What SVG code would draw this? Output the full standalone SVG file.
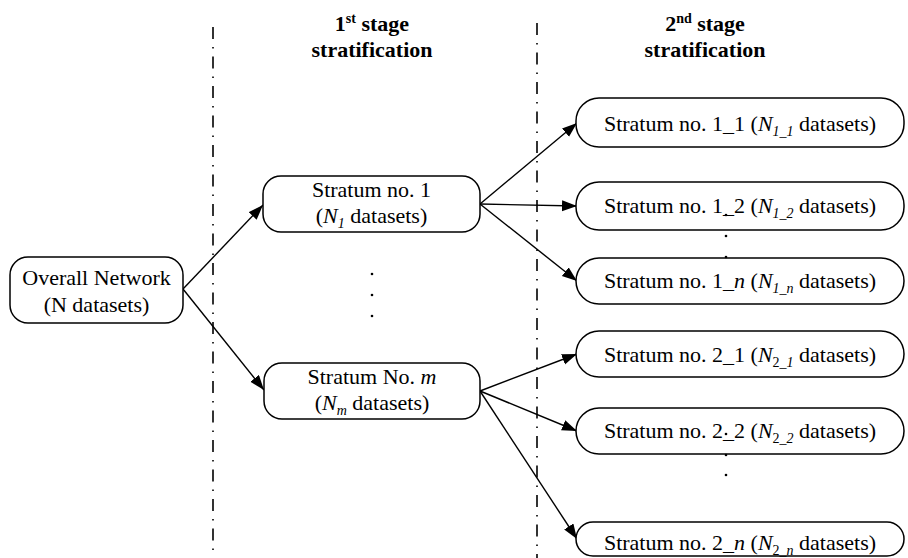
<svg xmlns="http://www.w3.org/2000/svg" width="908" height="558" viewBox="0 0 908 558">
  <style>
    .box { fill: #fff; stroke: #000; stroke-width: 1.5; }
    .lbl { font-family: "Liberation Serif", "Times New Roman", serif; font-size: 22px; fill: #000; text-anchor: middle; }
    .ttl { font-family: "Liberation Serif", "Times New Roman", serif; font-size: 22px; font-weight: bold; fill: #000; text-anchor: middle; }
    .it { font-style: italic; }
    .sub { font-size: 14px; }
    .sep { stroke: #000; stroke-width: 1.6; stroke-dasharray: 12 8 1.5 8; fill: none; }
    .edge { stroke: #000; stroke-width: 1.4; fill: none; marker-end: url(#arrow); }
    .dot { fill: #000; }
  </style>
  <defs>
    <marker id="arrow" markerUnits="userSpaceOnUse" markerWidth="16" markerHeight="12" refX="15" refY="5.5" orient="auto">
      <path d="M0,0 L15,5.5 L0,11 z" fill="#000"/>
    </marker>
  </defs>

  <!-- stage separators -->
  <g id="separators">
    <line class="sep" x1="213" y1="27" x2="213" y2="558"/>
    <line class="sep" x1="537" y1="23" x2="537" y2="558"/>
  </g>

  <!-- column titles -->
  <g id="title-stage1">
    <text class="ttl" x="372" y="31">1<tspan font-size="14" dy="-8">st</tspan><tspan dy="8"> stage</tspan></text>
    <text class="ttl" x="372" y="57">stratification</text>
  </g>
  <g id="title-stage2">
    <text class="ttl" x="705" y="31">2<tspan font-size="14" dy="-8">nd</tspan><tspan dy="8"> stage</tspan></text>
    <text class="ttl" x="705" y="57">stratification</text>
  </g>

  <!-- connectors -->
  <g id="connectors">
    <line class="edge" x1="183" y1="289" x2="263" y2="205"/>
    <line class="edge" x1="183" y1="289" x2="264" y2="390"/>
    <line class="edge" x1="480" y1="204" x2="577" y2="123"/>
    <line class="edge" x1="480" y1="204" x2="577" y2="206"/>
    <line class="edge" x1="480" y1="204" x2="577" y2="281"/>
    <line class="edge" x1="480" y1="391" x2="577" y2="354"/>
    <line class="edge" x1="480" y1="391" x2="577" y2="431"/>
    <line class="edge" x1="480" y1="391" x2="577" y2="539"/>
  </g>

  <!-- root node -->
  <g id="overall">
    <rect class="box" x="10" y="257" width="173" height="66" rx="18"/>
    <text class="lbl" x="96.5" y="285">Overall Network</text>
    <text class="lbl" x="96.5" y="312">(N datasets)</text>
  </g>

  <!-- first stage strata -->
  <g id="stratum-1">
    <rect class="box" x="263" y="176" width="217" height="56" rx="18"/>
    <text class="lbl" x="371.5" y="197">Stratum no. 1</text>
    <text class="lbl" x="371.5" y="223">(<tspan class="it">N</tspan><tspan class="sub it" dy="5">1</tspan><tspan dy="-5"> datasets)</tspan></text>
  </g>
  <g id="stratum-m">
    <rect class="box" x="264" y="363" width="216" height="56" rx="18"/>
    <text class="lbl" x="372" y="384">Stratum No. <tspan class="it">m</tspan></text>
    <text class="lbl" x="372" y="410">(<tspan class="it">N</tspan><tspan class="sub it" dy="5">m</tspan><tspan dy="-5"> datasets)</tspan></text>
  </g>
  <g id="stage1-ellipsis">
    <circle class="dot" cx="372" cy="274" r="1.3"/>
    <circle class="dot" cx="372" cy="295" r="1.3"/>
    <circle class="dot" cx="372" cy="316" r="1.3"/>
  </g>

  <!-- second stage strata -->
  <g id="stratum-1-1">
    <rect class="box" x="576" y="98" width="328" height="49" rx="23"/>
    <text class="lbl" x="740" y="131">Stratum no. 1_1 (<tspan class="it">N</tspan><tspan class="sub it" dy="5">1_1</tspan><tspan dy="-5"> datasets)</tspan></text>
  </g>
  <g id="stratum-1-2">
    <rect class="box" x="576" y="182" width="328" height="48" rx="23"/>
    <text class="lbl" x="740" y="213">Stratum no. 1_2 (<tspan class="it">N</tspan><tspan class="sub it" dy="5">1_2</tspan><tspan dy="-5"> datasets)</tspan></text>
  </g>
  <g id="stratum-1-n">
    <rect class="box" x="576" y="258" width="328" height="46" rx="23"/>
    <text class="lbl" x="740" y="288">Stratum no. 1_<tspan class="it">n</tspan> (<tspan class="it">N</tspan><tspan class="sub it" dy="5">1_n</tspan><tspan dy="-5"> datasets)</tspan></text>
  </g>
  <g id="stratum-2-1">
    <rect class="box" x="576" y="331" width="328" height="46" rx="23"/>
    <text class="lbl" x="740" y="362">Stratum no. 2_1 (<tspan class="it">N</tspan><tspan class="sub" dy="5">2<tspan class="it">_1</tspan></tspan><tspan dy="-5"> datasets)</tspan></text>
  </g>
  <g id="stratum-2-2">
    <rect class="box" x="576" y="408" width="328" height="46" rx="23"/>
    <text class="lbl" x="740" y="438">Stratum no. 2_2 (<tspan class="it">N</tspan><tspan class="sub" dy="5">2<tspan class="it">_2</tspan></tspan><tspan dy="-5"> datasets)</tspan></text>
  </g>
  <g id="stratum-2-n">
    <rect class="box" x="576" y="522" width="328" height="34" rx="17"/>
    <text class="lbl" x="740" y="550">Stratum no. 2_<tspan class="it">n</tspan> (<tspan class="it">N</tspan><tspan class="sub" dy="5">2<tspan class="it">_n</tspan></tspan><tspan dy="-5"> datasets)</tspan></text>
  </g>
  <g id="stage2-ellipsis">
    <circle class="dot" cx="726" cy="215" r="1.3"/>
    <circle class="dot" cx="726" cy="236" r="1.3"/>
    <circle class="dot" cx="726" cy="257" r="1.3"/>
    <circle class="dot" cx="726" cy="434" r="1.3"/>
    <circle class="dot" cx="726" cy="455" r="1.3"/>
    <circle class="dot" cx="726" cy="475" r="1.3"/>
  </g>
</svg>
